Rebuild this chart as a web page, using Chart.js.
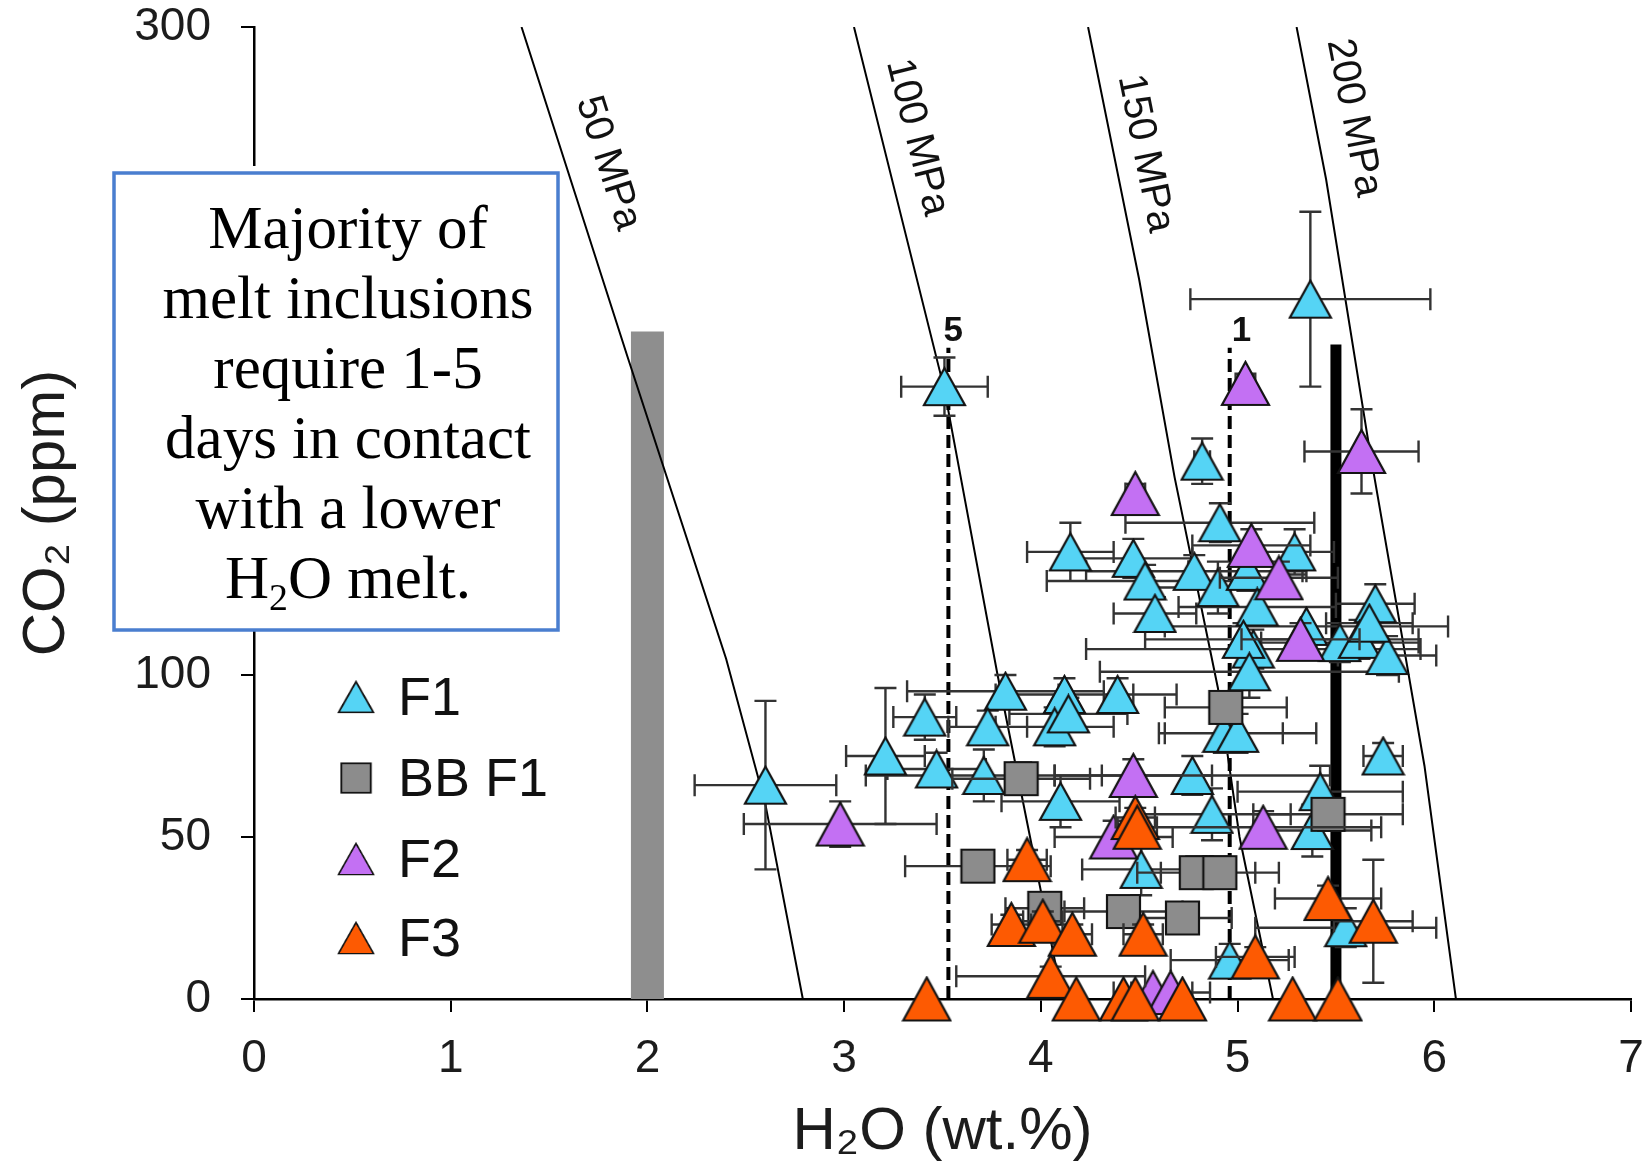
<!DOCTYPE html>
<html>
<head>
<meta charset="utf-8">
<script src="https://cdn.jsdelivr.net/npm/chart.js@4.4.1/dist/chart.umd.min.js"></script>
<style>
  html, body { margin: 0; padding: 0; background: #fff; }
</style>
</head>
<body>
<canvas id="myChart" width="1652" height="1168"></canvas>
<script>
// ---- data (H2O in wt.%, CO2 in ppm) ----
const seriesNames = ["F1", "BB F1", "F2", "F3"];

const f1H2O = [5.37, 3.51, 4.82, 4.91, 4.15, 4.47, 5.29, 4.78, 4.53, 4.58, 4.90, 5.05, 5.10, 5.35, 5.08, 5.03, 5.52, 5.70, 5.62, 5.76, 5.67, 5.06, 4.93, 5.00, 5.74, 3.82, 4.12, 4.39, 4.07, 4.14, 3.41, 3.73, 3.21, 3.47, 2.60, 3.71, 4.77, 4.10, 4.87, 5.42, 5.38, 4.51, 4.96, 5.55];
const f1CO2 = [216, 189, 166, 147, 138, 136, 138, 132, 129, 119, 127, 132, 121, 115, 108, 111, 110, 122, 111, 106, 116, 101, 82, 82, 75, 95, 94, 94, 84, 88, 87, 84, 75, 71, 66, 69, 69, 61, 57, 64, 52, 40, 12, 22];
const f1H2OErr = [0.61, 0.22, 0.04, 0.48, 0.22, 0.30, 0.20, 0.55, 0.50, 0.21, 0.35, 0.30, 0.40, 0.72, 0.85, 0.50, 0.40, 0.20, 0.30, 0.25, 0.22, 0.76, 0.30, 0.40, 0.10, 0.50, 0.35, 0.30, 0.30, 0.30, 0.16, 0.20, 0.20, 0.25, 0.36, 0.60, 0.70, 0.30, 0.40, 0.42, 0.30, 0.30, 0.30, 0.46];
const f1CO2Err = [27, 9, 7, 6, 9, 6, 7, 5, 5, 5, 8, 6, 6, 6, 6, 5, 6, 6, 6, 6, 6, 8, 6, 6, 4, 5, 5, 5, 6, 5, 7, 5, 21, 5, 26, 8, 6, 8, 8, 8, 8, 8, 5, 6];

const bbH2O = [4.94, 3.90, 3.68, 4.79, 4.91, 4.42, 4.72, 4.02, 5.46];
const bbCO2 = [90, 68, 41, 39, 39, 27, 25, 28, 57];
const bbH2OErr = [0.31, 0.35, 0.37, 0.30, 0.30, 0.30, 0.25, 0.20, 0.38];
const bbCO2Err = [5, 5, 4, 5, 5, 4, 4, 4, 5];

const f2H2O = [5.04, 5.63, 4.48, 5.07, 5.21, 5.32, 4.47, 2.98, 4.37, 5.13, 4.57, 4.66];
const f2CO2 = [190, 169, 156, 140, 130, 111, 69, 54, 50, 53, 2, 2];
const f2H2OErr = [0.05, 0.29, 0.05, 0.30, 0.30, 0.30, 0.40, 0.49, 0.30, 0.60, 0.20, 0.20];
const f2CO2Err = [3, 13, 3, 5, 5, 5, 5, 7, 5, 5, 0, 0];

const f3H2O = [3.93, 4.48, 4.49, 3.85, 4.01, 4.16, 4.52, 4.05, 5.09, 5.46, 5.69, 3.42, 4.18, 4.42, 4.48, 4.72, 5.28, 5.51];
const f3CO2 = [43, 56, 53, 23, 24, 20, 20, 7, 13, 31, 24, 0, 0, 0, 0, 0, 0, 0];
const f3H2OErr = [0.10, 0.10, 0.10, 0.10, 0.10, 0.10, 0.10, 0.48, 0.20, 0.27, 0.20, 0, 0, 0, 0, 0, 0, 0];
const f3CO2Err = [3, 3, 3, 3, 3, 3, 3, 3, 3, 4, 19, 0, 0, 0, 0, 0, 0, 0];

// isobars
const isobarNames = ["50 MPa", "100 MPa", "150 MPa", "200 MPa"];
const isobarH2O = [[1.36, 1.90, 2.40, 2.60, 2.79], [3.05, 3.51, 3.78, 4.11], [4.24, 4.50, 4.68, 4.90, 5.01, 5.18], [5.30, 5.45, 5.67, 5.95, 6.11]];
const isobarCO2 = [[300, 198, 105, 60, 0], [300, 188, 100, 0], [300, 222, 161, 96, 50, 0], [300, 253, 170, 72, 0]];
const isobarLabelH2O = [1.80, 3.37, 4.53, 5.59];
const isobarLabelCO2 = [258, 266, 261, 272];

// contact-time markers (days)
const contactLabels = ["5", "1"];
const contactH2O = [3.53, 4.96];
const contactTop = [201, 201];
const contactLabelH2O = [3.555, 5.02];
const contactLabelCO2 = [206, 206];
const greyBarH2O = 2.0, greyBarTop = 206;
const blackBarH2O = 5.50, blackBarTop = 202;

const xTickValues = [0, 1, 2, 3, 4, 5, 6, 7];
const yTickValues = [0, 50, 100, 150, 200, 250, 300];

const noteLines = ["Majority of", "melt inclusions", "require 1-5", "days in contact", "with a lower", "H_2O melt."];

// ---- styles ----
const sans = '"Liberation Sans", Arial, sans-serif';
const serif = '"Liberation Serif", "Times New Roman", serif';
const colF1 = "#55d4f5", colBB = "#8c8c8c", colF2 = "#c370f3", colF3 = "#fd5a02";

// marker sprites, centred on their bounding box like the spreadsheet markers
function makeMarker(shape, w, h, fill) {
  const c = document.createElement("canvas");
  c.width = w + 4;
  c.height = h + 4;
  const g = c.getContext("2d");
  g.beginPath();
  if (shape === "rect") {
    g.rect(2, 2, w, h);
  } else {
    g.moveTo(2 + w / 2, 2);
    g.lineTo(2 + w, 2 + h);
    g.lineTo(2, 2 + h);
    g.closePath();
  }
  g.fillStyle = fill;
  g.fill();
  g.lineJoin = "miter";
  g.lineWidth = 2.2;
  g.strokeStyle = "#141414";
  g.stroke();
  return c;
}

const markF1 = makeMarker("triangle", 41, 37, colF1);
const markBB = makeMarker("rect", 33, 33, colBB);
const markF2 = makeMarker("triangle", 47, 43, colF2);
const markF3 = makeMarker("triangle", 47, 43, colF3);

function pts(xs, ys) {
  return xs.map((v, i) => ({ x: v, y: ys[i] }));
}

function markerSet(label, xs, ys, xe, ye, sprite, order) {
  return {
    label: label,
    data: pts(xs, ys),
    errX: xe,
    errY: ye,
    pointStyle: sprite,
    pointRadius: 20,
    pointHoverRadius: 20,
    showLine: false,
    clip: false,
    order: order,
  };
}

function lineSet(xs, ys, width, color, dash) {
  return {
    data: pts(xs, ys),
    showLine: true,
    pointRadius: 0,
    borderColor: color,
    borderWidth: width,
    borderDash: dash || [],
    fill: false,
    tension: 0,
    order: 10,
  };
}

const datasets = [
  markerSet(seriesNames[3], f3H2O, f3CO2, f3H2OErr, f3CO2Err, markF3, 1),
  markerSet(seriesNames[2], f2H2O, f2CO2, f2H2OErr, f2CO2Err, markF2, 2),
  markerSet(seriesNames[1], bbH2O, bbCO2, bbH2OErr, bbCO2Err, markBB, 3),
  markerSet(seriesNames[0], f1H2O, f1CO2, f1H2OErr, f1CO2Err, markF1, 4),
];
isobarH2O.forEach((xs, i) => datasets.push(lineSet(xs, isobarCO2[i], 2, "#000")));
datasets.push(lineSet([greyBarH2O, greyBarH2O], [0, greyBarTop], 33, "#8e8e8e"));
datasets.push(lineSet([blackBarH2O, blackBarH2O], [0, blackBarTop], 11, "#000"));
contactH2O.forEach((v, i) => datasets.push(lineSet([v, v], [0, contactTop[i]], 4, "#000", [13, 6])));

// error bars drawn under each marker series
const errorBars = {
  id: "errorBars",
  beforeDatasetDraw(chart, args) {
    const ds = chart.data.datasets[args.index];
    if (!ds.errX) return;
    const { ctx } = chart;
    const xs = chart.scales.x, ys = chart.scales.y;
    const cap = 11;
    ctx.save();
    ctx.strokeStyle = "#333";
    ctx.lineWidth = 2.4;
    ctx.beginPath();
    ds.data.forEach((p, i) => {
      const px = xs.getPixelForValue(p.x), py = ys.getPixelForValue(p.y);
      const ex = ds.errX[i], ey = ds.errY[i];
      if (ex) {
        const l = xs.getPixelForValue(p.x - ex), r = xs.getPixelForValue(p.x + ex);
        ctx.moveTo(l, py); ctx.lineTo(r, py);
        ctx.moveTo(l, py - cap); ctx.lineTo(l, py + cap);
        ctx.moveTo(r, py - cap); ctx.lineTo(r, py + cap);
      }
      if (ey) {
        const t = ys.getPixelForValue(p.y + ey), b = ys.getPixelForValue(p.y - ey);
        ctx.moveTo(px, t); ctx.lineTo(px, b);
        ctx.moveTo(px - cap, t); ctx.lineTo(px + cap, t);
        ctx.moveTo(px - cap, b); ctx.lineTo(px + cap, b);
      }
    });
    ctx.stroke();
    ctx.restore();
  },
};

function drawRich(ctx, text, cx, baseline, size, family) {
  const parts = text.split(/(_\d)/).filter((s) => s.length);
  const pieces = parts.map((s) => {
    const sub = s[0] === "_";
    const sz = sub ? size * 0.62 : size;
    const str = sub ? s.slice(1) : s;
    ctx.font = sz + "px " + family;
    return { str, sz, sub, w: ctx.measureText(str).width };
  });
  const total = pieces.reduce((a, p) => a + p.w, 0);
  let x = cx - total / 2;
  ctx.textAlign = "left";
  ctx.textBaseline = "alphabetic";
  pieces.forEach((p) => {
    ctx.font = p.sz + "px " + family;
    ctx.fillText(p.str, x, baseline + (p.sub ? size * 0.2 : 0));
    x += p.w;
  });
}

const annotations = {
  id: "annotations",
  afterDatasetsDraw(chart) {
    const { ctx } = chart;
    const xs = chart.scales.x, ys = chart.scales.y;
    ctx.save();
    ctx.fillStyle = "#111";
    ctx.font = "40px " + sans;
    ctx.textAlign = "center";
    ctx.textBaseline = "middle";
    isobarNames.forEach((name, i) => {
      const cx = isobarCO2[i];
      let j = 0;
      while (j < cx.length - 2 && cx[j + 1] > isobarLabelCO2[i]) j++;
      const x1 = xs.getPixelForValue(isobarH2O[i][j]), y1 = ys.getPixelForValue(cx[j]);
      const x2 = xs.getPixelForValue(isobarH2O[i][j + 1]), y2 = ys.getPixelForValue(cx[j + 1]);
      const ang = Math.atan2(y2 - y1, x2 - x1);
      ctx.save();
      ctx.translate(xs.getPixelForValue(isobarLabelH2O[i]), ys.getPixelForValue(isobarLabelCO2[i]));
      ctx.rotate(ang);
      ctx.fillText(name, 0, 0);
      ctx.restore();
    });
    ctx.font = "bold 35px " + sans;
    contactLabels.forEach((t, i) => {
      ctx.fillText(t, xs.getPixelForValue(contactLabelH2O[i]), ys.getPixelForValue(contactLabelCO2[i]));
    });
    ctx.restore();
  },
  afterDraw(chart) {
    const { ctx } = chart;
    ctx.save();
    // note box (sits over the y axis and its middle tick labels)
    ctx.fillStyle = "#fff";
    ctx.fillRect(114, 166, 444, 464);
    ctx.strokeStyle = "#4a7ecf";
    ctx.lineWidth = 3.5;
    ctx.strokeRect(114, 173, 444, 457);
    ctx.fillStyle = "#000";
    noteLines.forEach((line, i) => drawRich(ctx, line, 348, 248 + i * 70, 61, serif));
    // legend
    const sprites = [markF1, markBB, markF2, markF3];
    const sizes = [[38, 34], [33, 33], [38, 34], [38, 34]];
    const rows = [697, 778, 859, 938];
    seriesNames.forEach((name, i) => {
      const [w, h] = sizes[i];
      ctx.drawImage(sprites[i], 356 - w / 2, rows[i] - h / 2, w, h);
      ctx.fillStyle = "#111";
      ctx.font = "54px " + sans;
      ctx.textAlign = "left";
      ctx.textBaseline = "middle";
      ctx.fillText(name, 398, rows[i] + 3);
    });
    ctx.restore();
  },
};

new Chart(document.getElementById("myChart"), {
  type: "scatter",
  data: { datasets: datasets },
  options: {
    responsive: false,
    animation: false,
    devicePixelRatio: 1,
    events: [],
    layout: { padding: { top: 27, right: 10, left: 0, bottom: 0 } },
    plugins: { legend: { display: false }, tooltip: { enabled: false } },
    scales: {
      x: {
        type: "linear",
        min: 0,
        max: 7,
        afterBuildTicks: (s) => { s.ticks = xTickValues.map((v) => ({ value: v })); },
        afterFit: (s) => { s.height = 169; s.paddingLeft = 0; s.paddingRight = 0; },
        grid: { display: true, drawOnChartArea: false, drawTicks: true, tickLength: 13, color: "#000", lineWidth: 2 },
        border: { display: true, color: "#000", width: 2.5 },
        ticks: { font: { family: sans, size: 46 }, color: "#1c1c1c", padding: 20 },
        title: { display: true, text: "H₂O (wt.%)", font: { family: sans, size: 60 }, color: "#1c1c1c", padding: { top: 0, bottom: 0 } },
      },
      y: {
        type: "linear",
        min: 0,
        max: 300,
        afterBuildTicks: (s) => { s.ticks = yTickValues.map((v) => ({ value: v })); },
        afterFit: (s) => { s.width = 254; s.paddingTop = 0; s.paddingBottom = 0; },
        grid: { display: true, drawOnChartArea: false, drawTicks: true, tickLength: 13, color: "#000", lineWidth: 2 },
        border: { display: true, color: "#000", width: 2.5 },
        ticks: { font: { family: sans, size: 46 }, color: "#1c1c1c", padding: 30 },
        title: { display: true, text: "CO₂ (ppm)", font: { family: sans, size: 60 }, color: "#1c1c1c", padding: { top: 11, bottom: 0 } },
      },
    },
  },
  plugins: [errorBars, annotations],
});
</script>
</body>
</html>
